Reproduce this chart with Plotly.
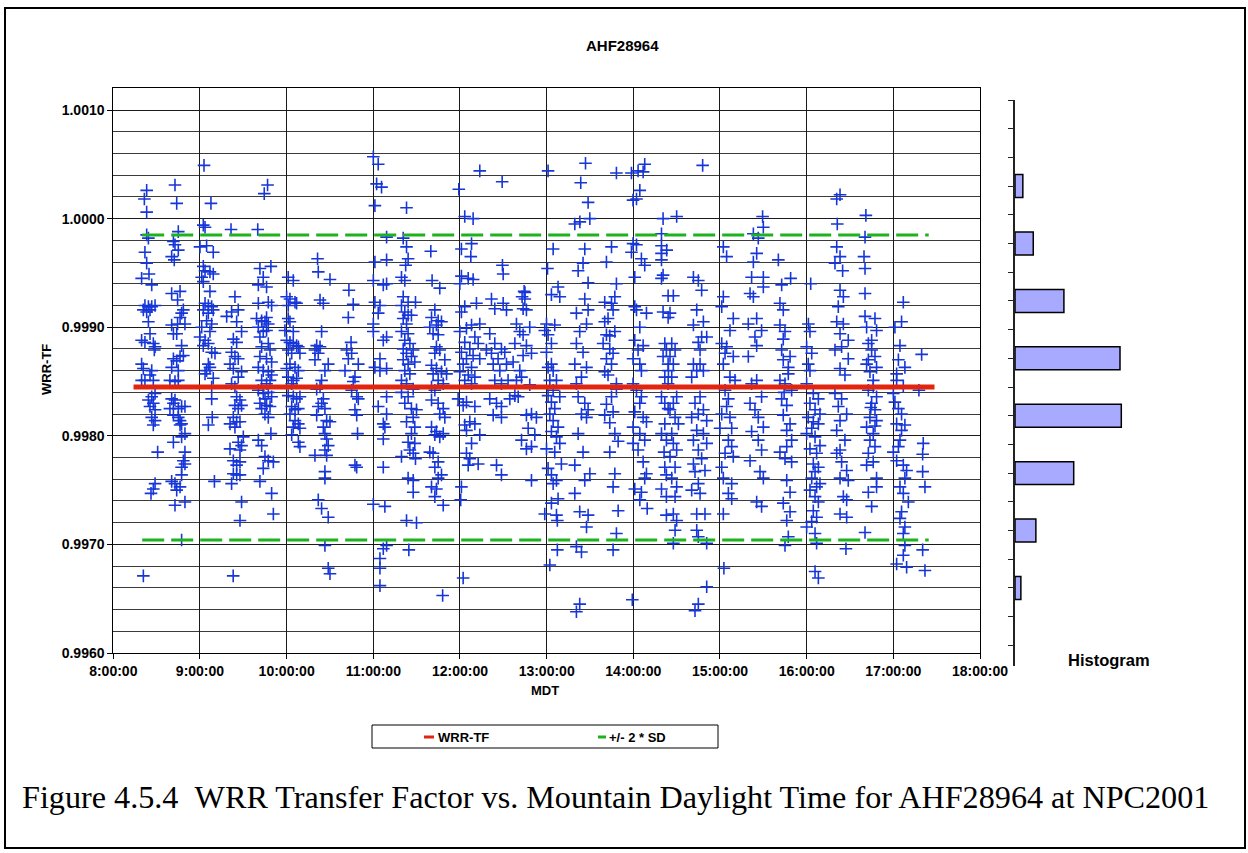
import plotly.graph_objects as go

# ---------------- data (time = minutes after 08:00 MDT, value = WRR-TF) ----------------
s0817 = [(23.1,1.00026),(21.5,1.00018),(23.1,1.00006),(23.1,0.99985),(24.3,0.99982),(21.9,0.99969),(23.1,0.99959),(24.7,0.99949),(19.6,0.99945),(26.6,0.99939),
         (21.9,0.99920),(24.3,0.99919),(26.6,0.99919),(28.9,0.99920),(20.8,0.99916),(23.1,0.99914),(25.4,0.99916),(24.3,0.99905),(25.4,0.99894),(19.6,0.99888),
         (21.9,0.99886),(27.7,0.99885),(28.9,0.99882),(28.4,0.99879),(19.6,0.99866),(20.8,0.99862),(26.6,0.99860),(25.4,0.99856),(27.7,0.99851),(19.6,0.99851),
         (21.9,0.99851),(28.9,0.99839),(26.6,0.99836),(24.3,0.99833),(27.7,0.99830),(25.4,0.99827),(28.9,0.99824),(26.6,0.99817),(28.9,0.99814),(27.7,0.99810),
         (30.7,0.99785),(28.9,0.99756),(27.7,0.99751),(26.1,0.99747),(20.8,0.99671)]
s0838 = [(42.7,1.00031),(43.9,1.00014),(45.0,0.99988),(41.6,0.99979),(42.7,0.99976),(45.0,0.99971),(40.4,0.99965),(42.2,0.99962),(40.4,0.99931),(46.2,0.99933),
         (44.5,0.99925),(48.5,0.99916),(47.3,0.99913),(46.2,0.99909),(40.4,0.99902),(44.5,0.99903),(49.6,0.99903),(41.6,0.99894),(43.9,0.99894),(47.3,0.99883),
         (41.6,0.99871),(43.9,0.99869),(46.2,0.99873),(48.5,0.99874),(40.4,0.99863),(45.0,0.99860),(39.2,0.99851),(42.7,0.99850),(45.0,0.99851),(40.4,0.99834),
         (42.7,0.99833),(41.6,0.99830),(39.2,0.99825),(45.0,0.99825),(47.3,0.99827),(49.6,0.99827),(41.6,0.99819),(45.0,0.99817),(46.2,0.99814),(47.3,0.99811),
         (46.2,0.99810),(49.6,0.99802),(47.3,0.99799),(41.6,0.99794),(49.6,0.99785),(48.5,0.99777),(49.6,0.99774),(47.3,0.99771),(47.3,0.99764),(40.4,0.99758),
         (42.7,0.99756),(46.2,0.99753),(43.9,0.99750),(42.7,0.99736),(49.6,0.99739),(47.3,0.99704)]
s0858 = [(62.8,1.00049),(67.6,1.00014),(62.3,0.99994),(63.5,0.99992),(60.0,0.99974),(64.6,0.99975),(69.2,0.99969),(62.3,0.99956),(63.5,0.99952),(66.9,0.99951),
         (69.2,0.99949),(61.2,0.99946),(62.3,0.99942),(66.9,0.99933),(63.5,0.99922),(65.8,0.99920),(68.1,0.99919),(62.3,0.99916),(69.2,0.99916),(65.8,0.99913),
         (64.6,0.99906),(68.1,0.99903),(61.2,0.99900),(66.9,0.99896),(60.0,0.99891),(63.5,0.99888),(62.3,0.99883),(65.8,0.99885),(68.1,0.99877),(70.4,0.99876),
         (65.8,0.99866),(64.6,0.99860),(69.2,0.99853),(66.9,0.99863),(63.5,0.99857),(68.1,0.99845),(68.1,0.99834),(68.5,0.99817),(65.8,0.99810),(70.0,0.99758)]
s0917 = [(81.5,0.99990),(84.2,0.99928),(81.9,0.99914),(86.5,0.99916),(78.5,0.99910),(85.4,0.99905),(88.8,0.99896),(83.1,0.99889),(85.4,0.99886),(81.9,0.99877),
         (84.2,0.99873),(86.5,0.99871),(80.8,0.99866),(83.1,0.99862),(88.8,0.99859),(86.5,0.99854),(81.9,0.99848),(84.2,0.99845),(85.4,0.99836),(87.7,0.99833),
         (84.2,0.99828),(86.5,0.99825),(88.8,0.99828),(83.1,0.99817),(85.4,0.99813),(80.8,0.99811),(87.7,0.99813),(84.2,0.99808),(90.0,0.99799),(86.5,0.99794),
         (88.8,0.99791),(87.7,0.99787),(80.8,0.99788),(83.1,0.99777),(87.7,0.99776),(85.4,0.99773),(83.1,0.99765),(85.4,0.99764),(81.9,0.99756),(87.7,0.99764),
         (88.8,0.99739),(87.7,0.99722),(83.0,0.99671)]
s0937 = [(106.8,1.00031),(104.5,1.00023),(100.0,0.99990),(101.5,0.99954),(109.1,0.99956),(103.8,0.99946),(100.4,0.99939),(106.1,0.99937),(100.4,0.99922),(107.3,0.99923),
         (109.6,0.99920),(99.2,0.99908),(102.7,0.99906),(105.0,0.99905),(107.3,0.99903),(106.1,0.99909),(100.4,0.99900),(103.8,0.99896),(106.1,0.99897),(101.5,0.99891),
         (107.3,0.99885),(102.7,0.99882),(108.5,0.99879),(101.5,0.99873),(106.1,0.99871),(109.6,0.99868),(100.4,0.99863),(103.8,0.99860),(107.3,0.99859),(109.6,0.99856),
         (102.7,0.99851),(106.1,0.99848),(108.5,0.99851),(100.4,0.99842),(103.8,0.99839),(107.3,0.99840),(109.6,0.99836),(105.0,0.99834),(101.5,0.99830),(106.1,0.99828),
         (108.5,0.99827),(102.7,0.99825),(105.0,0.99820),(107.3,0.99817),(109.1,0.99802),(100.4,0.99796),(102.7,0.99791),(105.0,0.99781),(107.3,0.99777),(110.8,0.99776),
         (103.8,0.99770),(101.5,0.99758),(109.6,0.99747),(110.8,0.99728)]
s0958 = [(121.1,0.99946),(124.6,0.99943),(120.0,0.99928),(122.3,0.99926),(125.8,0.99923),(121.1,0.99920),(126.9,0.99922),(121.1,0.99908),(122.3,0.99905),(118.8,0.99897),
         (124.6,0.99896),(120.0,0.99888),(122.3,0.99886),(124.6,0.99885),(126.9,0.99883),(128.1,0.99882),(121.1,0.99879),(123.5,0.99876),(129.2,0.99876),(122.3,0.99866),
         (120.0,0.99862),(125.8,0.99863),(128.1,0.99860),(121.1,0.99854),(124.6,0.99851),(126.9,0.99853),(123.5,0.99848),(121.1,0.99837),(124.6,0.99836),(126.9,0.99834),
         (129.2,0.99836),(123.5,0.99827),(125.8,0.99824),(128.1,0.99825),(122.3,0.99820),(125.8,0.99814),(128.1,0.99811),(124.6,0.99808),(129.2,0.99807),(123.5,0.99801),
         (128.1,0.99794),(129.2,0.99790)]
s1017 = [(141.4,0.99963),(141.9,0.99951),(150.0,0.99944),(143.1,0.99925),(145.4,0.99922),(144.2,0.99896),(140.8,0.99883),(143.1,0.99882),(139.6,0.99879),(141.9,0.99876),
         (139.6,0.99870),(148.8,0.99866),(146.5,0.99860),(144.2,0.99851),(140.8,0.99843),(143.1,0.99845),(145.4,0.99834),(144.2,0.99830),(141.9,0.99827),(146.5,0.99825),
         (140.8,0.99819),(147.7,0.99814),(150.0,0.99813),(145.4,0.99808),(146.5,0.99802),(147.7,0.99797),(148.8,0.99791),(146.5,0.99787),(147.7,0.99782),(139.6,0.99782),
         (146.5,0.99767),(146.5,0.99761),(141.9,0.99741),(144.2,0.99733),(148.8,0.99725),(146.5,0.99699),(148.8,0.99678),(150.0,0.99673)]
s1039 = [(163.1,0.99934),(166.1,0.99921),(162.7,0.99909),(164.6,0.99886),(161.6,0.99879),(165.0,0.99876),(162.7,0.99871),(169.6,0.99866),(160.4,0.99860),(167.3,0.99854),
         (166.1,0.99850),(165.0,0.99842),(168.5,0.99836),(169.6,0.99834),(167.3,0.99824),(168.5,0.99819),(169.1,0.99802),(167.3,0.99773),(168.5,0.99771)]
s1059 = [(180.0,1.00057),(183.4,1.00050),(182.3,1.00032),(185.7,1.00029),(181.1,1.00012),(189.2,0.99983),(181.1,0.99960),(189.2,0.99962),(180.0,0.99943),(186.9,0.99939),
         (189.2,0.99940),(181.1,0.99923),(184.6,0.99920),(183.4,0.99913),(180.0,0.99903),(180.0,0.99896),(189.2,0.99891),(186.9,0.99888),(184.6,0.99871),(181.1,0.99863),
         (184.6,0.99860),(189.2,0.99862),(189.2,0.99836),(183.4,0.99827),(189.2,0.99820),(186.9,0.99811),(188.0,0.99808),(186.9,0.99797),(186.9,0.99771),(180.0,0.99737),
         (188.0,0.99735),(189.2,0.99699),(186.9,0.99696),(184.6,0.99687),(184.6,0.99678),(184.6,0.99662)]
s1119 = [(203.0,1.00010),(200.7,0.99982),(203.0,0.99974),(204.1,0.99963),(202.4,0.99957),(199.5,0.99946),(201.8,0.99943),(200.7,0.99928),(204.1,0.99923),(209.2,0.99923),
         (199.5,0.99920),(201.8,0.99914),(204.1,0.99911),(206.4,0.99911),(200.7,0.99908),(203.0,0.99903),(199.5,0.99896),(204.1,0.99894),(201.8,0.99888),(205.3,0.99885),
         (200.7,0.99880),(207.6,0.99879),(203.0,0.99876),(206.4,0.99873),(200.7,0.99870),(204.1,0.99866),(208.7,0.99868),(201.8,0.99860),(205.3,0.99857),(199.5,0.99851),
         (203.0,0.99848),(207.6,0.99843),(199.5,0.99840),(204.1,0.99836),(201.8,0.99830),(206.4,0.99825),(209.9,0.99824),(207.6,0.99817),(203.0,0.99813),(208.7,0.99808),
         (206.4,0.99802),(204.1,0.99794),(208.7,0.99793),(205.3,0.99787),(207.6,0.99784),(199.5,0.99781),(209.2,0.99779),(204.1,0.99761),(207.6,0.99759),(207.6,0.99748),
         (203.0,0.99722),(209.9,0.99720),(204.6,0.99695)]
s1137 = [(219.8,0.99970),(220.7,0.99943),(226.0,0.99936),(222.6,0.99916),(220.3,0.99909),(224.9,0.99906),(227.2,0.99905),(219.1,0.99900),(223.7,0.99902),(221.4,0.99894),
         (224.9,0.99893),(223.7,0.99882),(226.0,0.99879),(222.6,0.99876),(229.5,0.99870),(220.3,0.99865),(223.7,0.99862),(227.2,0.99859),(221.4,0.99857),(230.7,0.99857),
         (224.9,0.99851),(220.3,0.99845),(222.6,0.99842),(228.4,0.99848),(220.3,0.99833),(224.9,0.99830),(228.4,0.99825),(226.0,0.99820),(229.5,0.99817),(220.3,0.99808),
         (223.7,0.99804),(228.4,0.99802),(226.0,0.99799),(222.6,0.99801),(219.1,0.99785),(221.4,0.99784),(224.9,0.99776),(222.6,0.99771),(227.2,0.99764),(224.9,0.99761),
         (220.3,0.99753),(223.7,0.99751),(222.6,0.99744),(228.4,0.99736),(228.0,0.99653)]
s1158 = [(239.2,1.00027),(243.3,1.00002),(249.1,1.00000),(253.7,1.00044),(241.0,0.99972),(248.0,0.99977),(247.5,0.99965),(241.0,0.99947),(245.7,0.99945),(249.1,0.99944),
         (239.9,0.99940),(251.4,0.99922),(243.3,0.99919),(241.0,0.99914),(248.0,0.99902),(253.7,0.99903),(244.5,0.99899),(239.9,0.99896),(250.3,0.99891),(243.3,0.99886),
         (252.6,0.99885),(246.8,0.99880),(241.0,0.99877),(249.1,0.99874),(244.5,0.99871),(253.7,0.99871),(242.2,0.99866),(248.0,0.99863),(239.9,0.99859),(245.7,0.99856),
         (250.3,0.99854),(243.3,0.99851),(248.0,0.99848),(238.7,0.99834),(244.5,0.99831),(250.3,0.99827),(242.2,0.99828),(246.8,0.99813),(243.3,0.99810),(250.3,0.99811),
         (253.7,0.99801),(244.5,0.99805),(248.0,0.99793),(244.5,0.99784),(246.8,0.99779),(245.7,0.99773),(252.6,0.99774),(241.0,0.99753),(240.5,0.99741),(242.2,0.99669)]
s1218 = [(269.2,1.00034),(269.4,0.99957),(269.9,0.99949),(261.8,0.99926),(264.1,0.99917),(269.9,0.99922),(272.2,0.99916),(260.6,0.99894),(264.1,0.99885),(258.3,0.99879),
         (261.8,0.99876),(268.7,0.99880),(271.0,0.99877),(266.4,0.99871),(263.0,0.99866),(272.2,0.99866),(267.6,0.99860),(264.1,0.99851),(268.7,0.99848),(273.3,0.99851),
         (260.6,0.99834),(265.3,0.99830),(268.7,0.99827),(263.0,0.99819),(268.7,0.99817),(265.3,0.99773),(268.7,0.99764)]
s1237 = [(285.0,0.99932),(283.0,0.99928),(284.4,0.99933),(284.9,0.99926),(283.7,0.99917),(286.0,0.99916),(279.1,0.99903),(281.4,0.99896),(283.7,0.99893),(288.3,0.99900),
         (278.0,0.99885),(286.0,0.99883),(289.5,0.99876),(283.7,0.99874),(276.8,0.99868),(281.4,0.99860),(282.6,0.99854),(279.1,0.99851),(288.3,0.99847),(278.0,0.99837),
         (274.5,0.99834),(280.3,0.99836),(286.0,0.99819),(289.5,0.99820),(292.9,0.99817),(287.2,0.99807),(282.6,0.99796),(286.0,0.99788),(289.5,0.99790),(291.8,0.99801),
         (289.5,0.99759)]
s1258 = [(301.0,1.00044),(300.6,0.99954),(304.5,0.99972),(303.3,0.99930),(309.1,0.99928),(307.9,0.99937),(299.9,0.99903),(298.7,0.99897),(305.6,0.99902),(301.0,0.99893),
         (303.3,0.99885),(299.9,0.99877),(303.3,0.99866),(301.0,0.99863),(304.5,0.99860),(302.2,0.99851),(306.8,0.99851),(304.5,0.99842),(301.0,0.99837),(309.1,0.99836),
         (303.3,0.99831),(305.6,0.99825),(302.2,0.99820),(304.5,0.99814),(307.9,0.99808),(303.3,0.99804),(306.8,0.99799),(309.1,0.99793),(305.6,0.99785),(299.9,0.99788),
         (310.2,0.99774),(301.0,0.99770),(303.3,0.99764),(306.8,0.99759),(304.5,0.99756),(303.3,0.99738),(307.9,0.99742),(298.7,0.99728),(306.8,0.99727),(307.4,0.99722),
         (307.4,0.99695),(302.2,0.99681)]
s1317 = [(326.9,1.00051),(323.6,1.00033),(328.7,1.00015),(319.5,0.99995),(323.0,0.99997),(329.9,1.00000),(326.4,0.99972),(321.8,0.99952),(325.2,0.99959),(328.7,0.99941),
         (326.4,0.99926),(320.6,0.99913),(328.7,0.99916),(322.9,0.99896),(327.6,0.99903),(320.6,0.99885),(325.2,0.99877),(319.5,0.99866),(327.6,0.99863),(324.1,0.99854),
         (320.6,0.99848),(321.8,0.99836),(326.4,0.99830),(328.7,0.99824),(324.1,0.99820),(327.6,0.99817),(321.8,0.99802),(325.2,0.99785),(319.5,0.99773),(329.9,0.99765),
         (326.4,0.99759),(319.5,0.99747),(322.9,0.99730),(328.7,0.99727),(327.6,0.99716),(320.6,0.99698),(324.1,0.99693),(322.9,0.99645),(320.6,0.99638)]
s1337 = [(348.3,1.00042),(344.9,0.99974),(341.4,0.99960),(348.3,0.99940),(347.2,0.99928),(340.2,0.99923),(344.9,0.99922),(346.0,0.99916),(342.5,0.99908),(340.2,0.99905),
         (347.2,0.99896),(341.4,0.99893),(339.1,0.99885),(343.7,0.99880),(341.4,0.99871),(344.9,0.99866),(340.2,0.99859),(348.3,0.99848),(344.9,0.99836),(340.2,0.99819),
         (347.2,0.99802),(343.7,0.99785),(347.2,0.99765),(346.0,0.99753),(349.5,0.99731),(348.3,0.99710),(346.0,0.99695),(343.7,0.99892),(346.0,0.99876),(342.5,0.99856),
         (348.3,0.99843),(341.4,0.99829),(346.0,0.99822),(343.7,0.99812),(349.5,0.99795)]
s1356 = [(358.7,1.00042),(363.3,1.00044),(367.9,1.00050),(366.8,1.00043),(364.5,1.00026),(359.8,1.00017),(362.2,1.00018),(359.8,0.99977),(362.2,0.99976),(358.7,0.99969),
         (365.6,0.99963),(367.9,0.99957),(361.0,0.99946),(361.0,0.99919),(362.2,0.99916),(369.1,0.99913),(364.5,0.99900),(361.0,0.99888),(366.8,0.99883),(363.3,0.99879),
         (359.8,0.99871),(364.5,0.99866),(365.6,0.99860),(359.8,0.99848),(362.2,0.99842),(365.6,0.99836),(364.5,0.99830),(361.0,0.99822),(366.8,0.99817),(369.1,0.99813),
         (359.8,0.99808),(364.5,0.99802),(367.9,0.99796),(359.8,0.99793),(363.3,0.99787),(366.8,0.99776),(369.1,0.99765),(367.9,0.99761),(361.0,0.99751),(365.6,0.99748),
         (364.5,0.99741),(369.6,0.99733),(359.3,0.99649)]
s1417 = [(380.6,1.00000),(379.5,0.99986),(379.5,0.99975),(379.5,0.99968),(379.5,0.99962),(379.5,0.99945),(380.6,0.99948),(384.1,0.99929),(380.6,0.99914),(384.1,0.99909),
         (381.8,0.99885),(382.9,0.99879),(380.6,0.99873),(384.1,0.99866),(381.8,0.99854),(384.1,0.99848),(379.5,0.99836),(381.8,0.99830),(384.1,0.99825),(381.8,0.99811),
         (379.5,0.99802),(382.9,0.99796),(381.3,0.99785),(381.8,0.99771),(382.9,0.99764),(379.5,0.99751),(382.9,0.99744),(382.9,0.99727),(390.0,1.00002),(383.1,0.99971),
         (387.7,0.99929),(385.4,0.99913),(386.6,0.99885),(388.9,0.99879),(385.4,0.99873),(387.7,0.99866),(384.3,0.99860),(386.6,0.99854),(390.0,0.99836),(387.7,0.99830),
         (385.4,0.99824),(388.9,0.99817),(391.2,0.99811),(386.6,0.99802),(387.7,0.99793),(390.0,0.99787),(385.4,0.99781),(388.9,0.99771),(386.6,0.99761),(390.0,0.99753),
         (388.9,0.99744),(387.7,0.99728),(390.0,0.99722),(388.9,0.99713),(387.7,0.99701)]
s1438 = [(408.0,1.00049),(401.6,0.99946),(405.0,0.99943),(407.3,0.99934),(403.9,0.99916),(408.5,0.99905),(401.6,0.99902),(407.3,0.99891),(410.8,0.99891),(405.0,0.99886),
         (406.2,0.99879),(401.6,0.99866),(406.2,0.99866),(403.9,0.99860),(408.5,0.99860),(400.4,0.99854),(406.2,0.99836),(402.7,0.99830),(408.5,0.99824),(405.0,0.99820),
         (400.4,0.99817),(410.8,0.99814),(403.9,0.99805),(408.5,0.99802),(401.6,0.99796),(410.8,0.99793),(405.0,0.99787),(407.3,0.99779),(401.6,0.99774),(409.6,0.99768),
         (402.7,0.99767),(405.0,0.99756),(400.4,0.99750),(406.2,0.99747),(403.9,0.99728),(409.6,0.99728),(403.9,0.99713),(405.0,0.99707),(410.8,0.99701),(410.8,0.99661),
         (405.0,0.99645),(402.7,0.99639)]
s1459 = [(422.3,0.99974),(424.6,0.99965),(422.3,0.99928),(421.2,0.99919),(429.2,0.99908),(426.9,0.99897),(421.2,0.99885),(424.6,0.99882),(423.5,0.99876),(429.2,0.99873),
         (422.3,0.99866),(426.9,0.99854),(430.4,0.99851),(423.5,0.99842),(425.8,0.99834),(424.6,0.99827),(421.2,0.99820),(426.9,0.99817),(428.1,0.99807),(420.0,0.99807),
         (425.8,0.99796),(428.1,0.99790),(423.5,0.99784),(429.2,0.99781),(421.2,0.99771),(422.3,0.99761),(428.1,0.99756),(425.8,0.99747),(428.1,0.99742),(422.3,0.99728),
         (422.7,0.99678)]
s1518 = [(449.5,1.00002),(450.0,0.99992),(443.1,0.99986),(446.5,0.99982),(445.4,0.99968),(443.1,0.99960),(441.9,0.99946),(450.0,0.99946),(440.8,0.99931),(443.1,0.99928),
         (450.0,0.99937),(445.4,0.99908),(439.6,0.99903),(448.8,0.99897),(444.2,0.99891),(445.4,0.99883),(439.6,0.99873),(441.9,0.99848),(445.4,0.99851),(448.8,0.99836),
         (440.8,0.99830),(444.2,0.99824),(446.5,0.99817),(450.0,0.99808),(441.9,0.99804),(446.5,0.99796),(448.8,0.99787),(440.8,0.99777),(447.7,0.99767),(450.0,0.99761),
         (445.4,0.99739),(448.8,0.99735)]
s1538 = [(460.4,0.99962),(462.7,0.99939),(468.9,0.99945),(461.5,0.99922),(463.8,0.99916),(461.5,0.99902),(465.0,0.99896),(463.8,0.99889),(462.7,0.99879),(468.5,0.99873),
         (467.3,0.99863),(461.5,0.99851),(465.0,0.99848),(469.6,0.99842),(462.7,0.99834),(466.2,0.99828),(463.8,0.99819),(468.5,0.99811),(466.2,0.99805),(469.6,0.99796),
         (461.5,0.99785),(465.0,0.99779),(469.6,0.99776),(466.2,0.99759),(468.5,0.99748),(463.8,0.99738),(468.5,0.99730),(466.2,0.99722),(467.3,0.99707),(465.0,0.99699),
         (463.8,0.99870),(467.3,0.99857),(464.4,0.99840),(466.2,0.99790)]
s1558 = [(482.8,0.99940),(481.2,0.99903),(482.3,0.99896),(480.0,0.99882),(483.5,0.99876),(481.1,0.99866),(482.3,0.99860),(480.0,0.99848),(484.6,0.99839),(488.1,0.99834),
         (482.3,0.99830),(485.8,0.99824),(489.2,0.99820),(481.1,0.99817),(484.6,0.99813),(488.1,0.99811),(483.5,0.99807),(480.0,0.99802),(485.8,0.99799),(489.2,0.99791),
         (482.3,0.99788),(486.9,0.99784),(484.6,0.99774),(488.1,0.99771),(485.8,0.99767),(483.5,0.99761),(489.2,0.99756),(486.9,0.99753),(482.3,0.99750),(485.8,0.99744),
         (488.1,0.99739),(484.6,0.99731),(486.9,0.99725),(483.5,0.99721),(480.0,0.99716),(485.8,0.99710),(486.9,0.99701),(485.8,0.99675),(488.1,0.99669)]
s1617 = [(503.1,1.00022),(500.8,1.00018),(501.2,0.99995),(500.8,0.99974),(503.1,0.99965),(499.6,0.99959),(504.9,0.99952),(503.1,0.99934),(505.4,0.99928),(501.9,0.99919),
         (500.8,0.99905),(505.4,0.99903),(503.1,0.99894),(508.8,0.99888),(499.6,0.99879),(504.2,0.99882),(508.8,0.99871),(503.1,0.99862),(506.5,0.99856),(499.6,0.99839),
         (504.2,0.99834),(501.9,0.99827),(507.7,0.99820),(503.1,0.99814),(500.8,0.99805),(506.5,0.99796),(503.1,0.99787),(500.8,0.99784),(504.2,0.99776),(507.7,0.99768),
         (503.1,0.99761),(508.8,0.99759),(505.4,0.99744),(507.7,0.99741),(503.1,0.99728),(507.7,0.99725),(507.2,0.99696)]
s1638 = [(521.0,1.00003),(520.4,0.99983),(519.7,0.99965),(520.4,0.99954),(520.4,0.99931),(520.4,0.99910),(527.3,0.99908),(521.5,0.99900),(528.4,0.99897),(522.7,0.99885),
         (525.0,0.99879),(527.3,0.99873),(521.5,0.99866),(523.8,0.99859),(528.4,0.99863),(526.1,0.99851),(522.7,0.99842),(528.4,0.99836),(525.0,0.99830),(527.3,0.99824),
         (523.8,0.99817),(528.4,0.99814),(521.5,0.99808),(526.1,0.99802),(523.8,0.99796),(527.3,0.99790),(522.7,0.99784),(526.1,0.99776),(521.5,0.99773),(528.4,0.99761),
         (522.7,0.99748),(528.4,0.99753),(525.0,0.99735),(520.4,0.99711),(525.0,0.99888),(522.7,0.99870),(526.1,0.99845),(524.4,0.99826),(527.3,0.99809)]
s1658 = [(546.9,0.99923),(545.7,0.99905),(541.1,0.99900),(544.6,0.99883),(548.0,0.99863),(542.3,0.99857),(542.3,0.99851),(540.0,0.99839),(543.5,0.99825),(545.7,0.99820),
         (542.3,0.99811),(548.0,0.99810),(544.6,0.99796),(540.0,0.99785),(542.3,0.99777),(546.9,0.99773),(549.2,0.99768),(548.0,0.99761),(544.6,0.99753),(546.9,0.99747),
         (550.4,0.99739),(545.7,0.99730),(544.6,0.99724),(548.0,0.99716),(546.9,0.99710),(548.0,0.99699),(546.9,0.99690),(542.3,0.99682),(549.2,0.99679),(543.5,0.99870),
         (546.9,0.99846),(541.1,0.99831),(545.7,0.99805),(543.5,0.99790)]
s1717 = [(559.6,0.99875),(557.7,0.99842),(560.7,0.99793),(560.3,0.99783),(560.3,0.99767),(561.9,0.99753),(560.3,0.99695),(561.9,0.99676)]

sessions = [s0817, s0838, s0858, s0917, s0937, s0958, s1017, s1039, s1059, s1119, s1137, s1158, s1218, s1237,
            s1258, s1317, s1337, s1356, s1417, s1438, s1459, s1518, s1538, s1558, s1617, s1638, s1658, s1717]
mdt_min = [p[0] for s in sessions for p in s]
wrr_tf = [p[1] for s in sessions for p in s]

tf_mean = 0.99845
sd_upper = 0.99985
sd_lower = 0.99704
mean_span = [14.0, 568.5]
sd_span = [20.0, 564.5]

hour_labels = ["8:00:00", "9:00:00", "10:00:00", "11:00:00", "12:00:00", "13:00:00",
               "14:00:00", "15:00:00", "16:00:00", "17:00:00", "18:00:00"]
hist_counts = [12, 28, 75, 161, 163, 90, 32, 9]   # top bin to bottom bin

# ---------------- styling helpers ----------------
W, H = 1248, 853
def px(x):
    return x / W
def py(y):
    return (H - y) / H

SANS = "Liberation Sans, Arial, sans-serif"
BLUE = "#1636d8"
RED = "#e2250e"
GREEN = "#1fb21f"

fig = go.Figure()

fig.add_trace(go.Scatter(
    x=mdt_min, y=wrr_tf, mode="markers", name="data",
    marker=dict(symbol="cross-thin", size=9, color=BLUE, line=dict(width=1.6, color=BLUE)),
    xaxis="x", yaxis="y", showlegend=False))

fig.add_trace(go.Scatter(
    x=sd_span, y=[sd_upper, sd_upper], mode="lines", name="+/- 2 * SD",
    line=dict(color=GREEN, width=3, dash="22px,7px"), showlegend=False))
fig.add_trace(go.Scatter(
    x=sd_span, y=[sd_lower, sd_lower], mode="lines", name="+/- 2 * SD",
    line=dict(color=GREEN, width=3, dash="22px,7px"), showlegend=False))
fig.add_trace(go.Scatter(
    x=mean_span, y=[tf_mean, tf_mean], mode="lines", name="WRR-TF",
    line=dict(color=RED, width=5), showlegend=False))

# histogram (horizontal bars on a separate axis)
hist_pos = [3 + 2 * i for i in range(len(hist_counts))]
fig.add_trace(go.Bar(
    x=hist_counts, y=hist_pos, orientation="h", width=0.8,
    marker=dict(color="#a7aaff", line=dict(color="#000000", width=1.5)),
    xaxis="x2", yaxis="y2", showlegend=False))

tickfont = dict(family=SANS, size=14, color="#000000", weight="bold")

fig.update_layout(
    width=W, height=H,
    margin=dict(l=0, r=0, t=0, b=0, autoexpand=False),
    paper_bgcolor="white", plot_bgcolor="rgba(0,0,0,0)",
    showlegend=False,
    xaxis=dict(domain=[px(113.3), px(980)], range=[0, 600], automargin=False,
               tickmode="array", tickvals=[60 * i for i in range(11)], ticktext=hour_labels,
               showgrid=True, gridcolor="#1a1a1a", gridwidth=1,
               showline=True, linecolor="#000000", linewidth=1, mirror=True,
               ticks="outside", ticklen=5, tickcolor="#000000",
               zeroline=False, tickfont=tickfont, anchor="y"),
    yaxis=dict(domain=[py(653), py(88.3)], range=[0.9960, 1.0012], automargin=False,
               tickmode="array", tickvals=[0.996, 0.997, 0.998, 0.999, 1.000, 1.001],
               tickformat=".4f",
               showgrid=True, gridcolor="#1a1a1a", gridwidth=1,
               minor=dict(tickmode="array",
                          tickvals=[0.9962, 0.9964, 0.9966, 0.9968, 0.9972, 0.9974, 0.9976, 0.9978,
                                    0.9982, 0.9984, 0.9986, 0.9988, 0.9992, 0.9994, 0.9996, 0.9998,
                                    1.0002, 1.0004, 1.0006, 1.0008],
                          showgrid=True, gridcolor="#3a3a3a", gridwidth=1, ticks=""),
               showline=True, linecolor="#000000", linewidth=1, mirror=True,
               ticks="outside", ticklen=5, tickcolor="#000000",
               zeroline=False, tickfont=tickfont, anchor="x"),
    xaxis2=dict(domain=[px(1015), px(1180)], range=[0, 253], visible=False, anchor="y2",
                automargin=False),
    yaxis2=dict(domain=[py(666), py(100)], range=[19.72, 0], anchor="x2", automargin=False,
                tickmode="array", tickvals=list(range(20)), showticklabels=False,
                ticks="outside", ticklen=5, tickcolor="#222222",
                showline=True, linecolor="#222222", linewidth=1.5,
                showgrid=False, zeroline=False),
)

def label(text, x, y, size, xanchor="center", angle=0, family=SANS, weight="bold"):
    return dict(text=text, x=px(x), y=py(y), xref="paper", yref="paper",
                xanchor=xanchor, yanchor="middle", textangle=angle, showarrow=False,
                font=dict(family=family, size=size, color="#000", weight=weight))

ann = [
    label("AHF28964", 622, 45, 15),
    label("WRR-TF", 47, 370, 13, angle=-90),
    label("MDT", 545, 690, 13),
    label("Histogram", 1109, 660, 16.5),
    label("WRR-TF", 436, 737, 13, xanchor="left"),
    label("+/- 2 * SD", 607, 737, 13, xanchor="left"),
    label("Figure 4.5.4 \u00a0WRR Transfer Factor vs. Mountain Daylight Time for AHF28964 at NPC2001",
          20, 797, 32.2, xanchor="left", family="Liberation Serif, Times New Roman, serif", weight="normal"),
]
fig.update_layout(annotations=ann)

shapes = [
    dict(type="rect", xref="paper", yref="paper", x0=px(5), x1=px(1245), y0=py(848), y1=py(8),
         line=dict(color="#000", width=2)),
    dict(type="rect", xref="paper", yref="paper", x0=px(372), x1=px(718), y0=py(748), y1=py(725),
         line=dict(color="#000", width=1)),
    dict(type="line", xref="paper", yref="paper", x0=px(424), x1=px(434), y0=py(737), y1=py(737),
         line=dict(color=RED, width=3)),
    dict(type="line", xref="paper", yref="paper", x0=px(598), x1=px(606), y0=py(737), y1=py(737),
         line=dict(color=GREEN, width=3)),
]
fig.update_layout(shapes=shapes)

fig.write_html("out.html", config={"displayModeBar": False},
               post_script="document.body.style.margin='0';document.body.style.overflow='hidden';")
